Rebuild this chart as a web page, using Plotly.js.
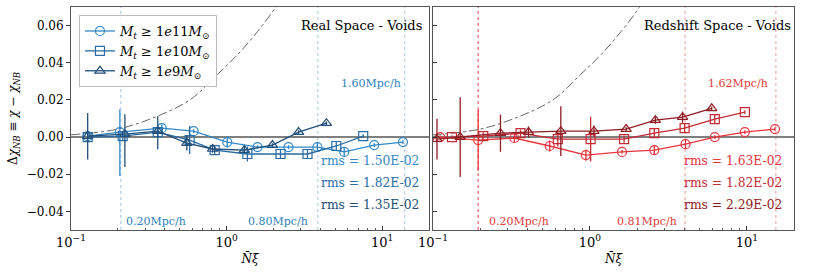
<!DOCTYPE html>
<html><head><meta charset="utf-8">
<script src="https://cdn.plot.ly/plotly-3.0.1.min.js"></script>
<style>html,body{margin:0;padding:0;background:#fff}</style>
</head><body><div id="chart" style="width:830px;height:277px"></div>
<script>
// ---- Data ----
// Real space (left panel)
const realM11x = [0.128, 0.206, 0.383, 0.614, 1.01, 1.58, 2.50, 3.83, 5.70, 8.89, 13.6];
const realM11y = [0.0005, 0.0027, 0.0048, 0.0032, -0.0027, -0.0054, -0.0054, -0.0054, -0.0080, -0.0043, -0.0027];
const realM11ep = [0.001, 0.0123, 0.002, 0.001, 0.003, 0.001, 0.001, 0.0025, 0.0025, 0.001, 0.001];
const realM11em = [0.001, 0.0236, 0.002, 0.001, 0.003, 0.001, 0.001, 0.0025, 0.0025, 0.001, 0.001];

const realM10x = [0.128, 0.215, 0.361, 0.579, 0.838, 1.36, 2.22, 3.31, 5.07, 7.55];
const realM10y = [0.0, 0.0005, 0.0027, -0.0016, -0.0070, -0.0091, -0.0091, -0.0091, -0.0048, 0.0005];
const realM10e = [0.0025, 0.0025, 0.0025, 0.0075, 0.0025, 0.004, 0.0025, 0.0025, 0.0025, 0.001];

const realM9x = [0.128, 0.222, 0.361, 0.555, 0.813, 1.30, 1.97, 2.90, 4.38];
const realM9y = [0.0005, 0.0016, 0.0032, -0.0032, -0.0064, -0.0070, -0.0043, 0.0027, 0.0075];
const realM9ep = [0.0125, 0.0107, 0.008, 0.004, 0.002, 0.002, 0.001, 0.001, 0.001];
const realM9em = [0.0125, 0.0177, 0.0097, 0.004, 0.002, 0.002, 0.001, 0.001, 0.001];

// Redshift space (right panel)
const zM11x = [0.111, 0.194, 0.330, 0.554, 0.942, 1.60, 2.57, 4.06, 6.24, 9.70, 15.1];
const zM11y = [0.0, -0.0016, -0.0005, -0.0048, -0.0097, -0.0080, -0.0070, -0.0038, 0.0, 0.0027, 0.0043];
const zM11e = [0.001, 0.0165, 0.0025, 0.003, 0.003, 0.001, 0.0025, 0.0025, 0.001, 0.001, 0.001];

const zM10x = [0.132, 0.209, 0.361, 0.624, 1.01, 1.65, 2.57, 4.01, 6.24, 9.70];
const zM10y = [0.0, 0.0005, 0.0021, -0.0011, -0.0011, -0.0011, 0.0021, 0.0048, 0.0097, 0.0134];
const zM10e = [0.001, 0.002, 0.002, 0.004, 0.012, 0.002, 0.0025, 0.0025, 0.0025, 0.001];

const zM9x = [0.106, 0.149, 0.269, 0.406, 0.652, 1.06, 1.70, 2.61, 3.89, 5.97];
const zM9y = [-0.0011, 0.0, 0.0021, 0.0027, 0.0032, 0.0032, 0.0043, 0.0091, 0.0107, 0.0155];
const zM9e = [0.011, 0.0215, 0.010, 0.003, 0.0134, 0.003, 0.001, 0.002, 0.003, 0.001];

// Reference dash-dot curve (same in both panels)
const curveX = [0.1, 0.2, 0.36, 0.59, 0.875, 1.18, 1.58, 2.06, 2.4];
const curveY = [0.0012, 0.0043, 0.0113, 0.0204, 0.0338, 0.0445, 0.0568, 0.0697, 0.079];

// Scale markers
const realScales = [0.209, 3.86, 13.96];
const realScaleLabels = ['0.20Mpc/h', '0.80Mpc/h', '1.60Mpc/h'];
const zScales = [0.194, 4.04, 15.3];
const zScaleLabels = ['0.20Mpc/h', '0.81Mpc/h', '1.62Mpc/h'];

const realRms = ['rms = 1.50E-02', 'rms = 1.82E-02', 'rms = 1.35E-02'];
const zRms = ['rms = 1.63E-02', 'rms = 1.82E-02', 'rms = 2.29E-02'];

const seriesNames = ['<i>M</i><sub><i>t</i></sub> ≥ 1<i>e</i>11<i>M</i><sub>⊙</sub>',
                     '<i>M</i><sub><i>t</i></sub> ≥ 1<i>e</i>10<i>M</i><sub>⊙</sub>',
                     '<i>M</i><sub><i>t</i></sub> ≥ 1<i>e</i>9<i>M</i><sub>⊙</sub>'];

const xMajorTicks = [0.1, 1, 10];
const xMajorLabels = ['10<sup>−1</sup>', '10<sup>0</sup>', '10<sup>1</sup>'];
const xMinorTicks = [0.2, 0.3, 0.4, 0.5, 0.6, 0.7, 0.8, 0.9, 2, 3, 4, 5, 6, 7, 8, 9, 20];

// ---- Styles ----
const blues = ['#3488c8', '#2a6ca3', '#224f7a'];
const reds = ['#e8363e', '#c32c36', '#8e1d24'];
const symbols = ['circle-open', 'square-open', 'triangle-up-open'];
const FONT = 'DejaVu Serif';

function series(x, y, ep, em, color, sym, name, xa, ya, showlegend) {
  return {
    type: 'scatter', mode: 'lines+markers', x: x, y: y, name: name,
    xaxis: xa, yaxis: ya, showlegend: showlegend,
    line: {color: color, width: 1.3},
    marker: {symbol: sym, size: 9, color: color, line: {color: color, width: 1.2}},
    error_y: {type: 'data', symmetric: false, array: ep, arrayminus: em, color: color, thickness: 1.3, width: 0},
    cliponaxis: true
  };
}

const traces = [
  {type: 'scatter', mode: 'lines', x: curveX, y: curveY, xaxis: 'x', yaxis: 'y', showlegend: false,
   line: {color: '#666', width: 1, dash: 'dashdot', shape: 'spline'}},
  {type: 'scatter', mode: 'lines', x: curveX, y: curveY, xaxis: 'x2', yaxis: 'y2', showlegend: false,
   line: {color: '#666', width: 1, dash: 'dashdot', shape: 'spline'}},
  series(realM11x, realM11y, realM11ep, realM11em, blues[0], symbols[0], seriesNames[0], 'x', 'y', true),
  series(realM10x, realM10y, realM10e, realM10e, blues[1], symbols[1], seriesNames[1], 'x', 'y', true),
  series(realM9x, realM9y, realM9ep, realM9em, blues[2], symbols[2], seriesNames[2], 'x', 'y', true),
  series(zM11x, zM11y, zM11e, zM11e, reds[0], symbols[0], seriesNames[0], 'x2', 'y2', false),
  series(zM10x, zM10y, zM10e, zM10e, reds[1], symbols[1], seriesNames[1], 'x2', 'y2', false),
  series(zM9x, zM9y, zM9e, zM9e, reds[2], symbols[2], seriesNames[2], 'x2', 'y2', false)
];

const shapes = [];
realScales.forEach(v => shapes.push({type: 'line', xref: 'x', yref: 'y domain', x0: v, x1: v, y0: 0, y1: 1,
  line: {color: '#9fc6e6', width: 1, dash: 'dot'}, layer: 'below'}));
zScales.forEach((v, i) => shapes.push({type: 'line', xref: 'x2', yref: 'y2 domain', x0: v, x1: v, y0: 0, y1: 1,
  line: {color: i === 0 ? '#e34a4a' : '#ef9a9a', width: 1, dash: 'dot'}, layer: 'below'}));

const annotations = [];
const realLabelPos = [{y: 0.036, xa: 'left', sh: 3}, {y: 0.036, xa: 'right', sh: -8}, {y: 0.659, xa: 'right', sh: -2}];
const zLabelPos = [{y: 0.036, xa: 'left', sh: 9}, {y: 0.036, xa: 'right', sh: -6}, {y: 0.659, xa: 'right', sh: -6}];
realScales.forEach((v, i) => annotations.push({xref: 'x', yref: 'y domain', x: Math.log10(v), y: realLabelPos[i].y,
  xanchor: realLabelPos[i].xa, xshift: realLabelPos[i].sh, yanchor: 'middle', showarrow: false, text: realScaleLabels[i],
  font: {family: FONT, size: 11, color: '#2f7fc0'}}));
zScales.forEach((v, i) => annotations.push({xref: 'x2', yref: 'y2 domain', x: Math.log10(v), y: zLabelPos[i].y,
  xanchor: zLabelPos[i].xa, xshift: zLabelPos[i].sh, yanchor: 'middle', showarrow: false, text: zScaleLabels[i],
  font: {family: FONT, size: 11, color: '#e03a3a'}}));
const rmsY = [0.309, 0.211, 0.112];
realRms.forEach((t, i) => annotations.push({xref: 'x domain', yref: 'y domain', x: 0.978, y: rmsY[i], xanchor: 'right', yanchor: 'middle',
  showarrow: false, text: t, font: {family: FONT, size: 12.3, color: blues[i]}}));
zRms.forEach((t, i) => annotations.push({xref: 'x2 domain', yref: 'y2 domain', x: 0.972, y: rmsY[i], xanchor: 'right', yanchor: 'middle',
  showarrow: false, text: t, font: {family: FONT, size: 12.3, color: reds[i]}}));
annotations.push({xref: 'x domain', yref: 'y domain', x: 0.986, y: 0.919, xanchor: 'right', yanchor: 'middle', showarrow: false,
  text: 'Real Space - Voids', font: {family: FONT, size: 13, color: '#000'}});
annotations.push({xref: 'x2 domain', yref: 'y2 domain', x: 0.997, y: 0.919, xanchor: 'right', yanchor: 'middle', showarrow: false,
  text: 'Redshift Space - Voids', font: {family: FONT, size: 13, color: '#000'}});

function xAxis(domain, anchor) {
  return {
    type: 'log', domain: domain, range: [-1, 1.3], anchor: anchor,
    showline: true, mirror: true, linecolor: '#555', linewidth: 1,
    ticks: 'inside', ticklen: 4, tickcolor: '#333',
    tickmode: 'array', tickvals: xMajorTicks, ticktext: xMajorLabels,
    showgrid: false, zeroline: false,
    minor: {ticks: 'inside', ticklen: 2, tickmode: 'array', tickvals: xMinorTicks, tickcolor: '#555', showgrid: false},
    tickfont: {family: FONT, size: 13, color: '#000'},
    title: {text: '<i>N̄ξ̄</i>', standoff: 6, font: {family: FONT, size: 12, color: '#000'}}
  };
}

const layout = {
  width: 830, height: 277,
  margin: {l: 71, r: 36, t: 7, b: 47},
  paper_bgcolor: '#fff', plot_bgcolor: '#fff',
  font: {family: FONT, size: 12, color: '#000'},
  xaxis: xAxis([0, 0.495], 'y'),
  xaxis2: xAxis([0.5007, 1], 'y2'),
  yaxis: {
    domain: [0, 1], anchor: 'x', range: [-0.05, 0.07], dtick: 0.02, tick0: 0, tickformat: '.2f',
    ticks: 'outside', ticklen: 4, tickcolor: '#333',
    showline: true, mirror: true, linecolor: '#555', linewidth: 1,
    showgrid: false, zeroline: true, zerolinecolor: '#808080', zerolinewidth: 1.6,
    tickfont: {family: FONT, size: 12, color: '#000'},
    title: {text: 'Δ<i>χ</i><sub><i>NB</i></sub> ≡ <i>χ</i> − <i>χ</i><sub><i>NB</i></sub>', standoff: 6,
            font: {family: FONT, size: 12, color: '#000'}}
  },
  yaxis2: {
    domain: [0, 1], anchor: 'x2', matches: 'y', range: [-0.05, 0.07], dtick: 0.02, tick0: 0,
    showticklabels: false, ticks: 'inside', ticklen: 4, tickcolor: '#333',
    showline: true, mirror: true, linecolor: '#555', linewidth: 1,
    showgrid: false, zeroline: true, zerolinecolor: '#808080', zerolinewidth: 1.6
  },
  legend: {x: 0.011, y: 0.964, xanchor: 'left', yanchor: 'top', bgcolor: 'rgba(255,255,255,0.85)',
           bordercolor: '#bbb', borderwidth: 1, font: {family: FONT, size: 13, color: '#000'},
           tracegroupgap: 0, itemwidth: 30},
  shapes: shapes,
  annotations: annotations
};

Plotly.newPlot('chart', traces, layout, {displayModeBar: false, staticPlot: true});
</script>
</body></html>
